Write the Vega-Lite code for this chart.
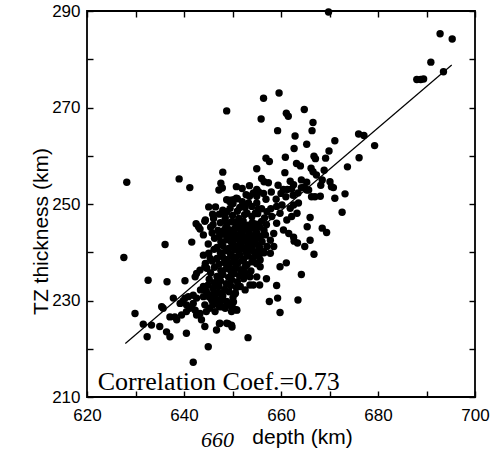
{
  "$schema": "https://vega.github.io/schema/vega-lite/v6.json",
  "autosize": "none",
  "width": 388,
  "height": 386,
  "padding": {"left": 87, "top": 11, "right": 28, "bottom": 57},
  "background": "white",
  "config": {
    "view": {"stroke": "black", "strokeWidth": 1.8},
    "axis": {
      "zindex": 1,
      "labelFont": "Liberation Sans",
      "labelFontSize": 17,
      "labelColor": "black",
      "grid": false,
      "domain": false,
      "ticks": true,
      "tickSize": 6,
      "tickWidth": 1.4,
      "tickColor": "black",
      "offset": -6,
      "labelFlush": false,
      "labelOverlap": false,
      "titleFont": "Liberation Sans",
      "titleFontSize": 21,
      "titleFontWeight": "normal",
      "titleColor": "black"
    }
  },
  "title": {
    "text": "660",
    "orient": "bottom",
    "anchor": "start",
    "frame": "group",
    "font": "Liberation Serif",
    "fontStyle": "italic",
    "fontWeight": "normal",
    "fontSize": 22,
    "color": "black",
    "dx": 114,
    "dy": -17,
    "offset": 0
  },
  "resolve": {"axis": {"x": "independent", "y": "independent"}},
  "layer": [
    {
      "data": {"values": [
        {"x":669.8,"y":289.8},{"x":692.8,"y":285.3},{"x":695.3,"y":284.2},{"x":690.9,"y":279.4},{"x":693.5,"y":277.4},{"x":688.0,"y":275.8},{"x":688.8,"y":275.8},{"x":689.4,"y":275.9},
        {"x":659.6,"y":273.0},{"x":656.4,"y":271.9},{"x":648.8,"y":269.3},{"x":661.1,"y":268.8},{"x":661.5,"y":268.2},{"x":664.8,"y":269.6},{"x":655.9,"y":267.6},{"x":666.6,"y":266.9},{"x":659.3,"y":265.2},{"x":666.4,"y":265.2},{"x":662.9,"y":264.1},
        {"x":676.0,"y":264.5},{"x":677.1,"y":264.2},{"x":679.3,"y":262.1},{"x":671.1,"y":263.1},{"x":665.3,"y":262.4},{"x":662.7,"y":261.5},{"x":669.9,"y":261.0},{"x":669.2,"y":259.5},{"x":666.8,"y":259.9},{"x":667.1,"y":259.4},{"x":660.9,"y":259.7},{"x":676.1,"y":259.6},{"x":656.9,"y":259.5},{"x":657.6,"y":258.8},{"x":663.2,"y":258.4},{"x":664.0,"y":257.9},{"x":673.7,"y":257.7},{"x":655.0,"y":257.3},{"x":648.0,"y":256.6},{"x":668.9,"y":257.0},{"x":666.2,"y":257.4},{"x":666.6,"y":256.7},{"x":667.3,"y":256.0},{"x":660.8,"y":256.5},{"x":639.0,"y":255.2},{"x":628.2,"y":254.5},{"x":656.0,"y":255.3},{"x":656.5,"y":254.6},{"x":657.4,"y":254.4},{"x":659.4,"y":253.9},{"x":664.2,"y":255.0},{"x":668.5,"y":255.0},{"x":668.2,"y":253.9},{"x":670.1,"y":254.6},{"x":670.4,"y":253.6},
        {"x":661.9,"y":254.7},{"x":662.6,"y":254.0},{"x":662.2,"y":253.1},{"x":661.3,"y":253.0},{"x":665.3,"y":254.5},{"x":664.8,"y":253.5},{"x":665.7,"y":252.9},
        {"x":670.8,"y":253.4},{"x":671.1,"y":251.2},{"x":673.2,"y":252.1},{"x":672.6,"y":248.3},{"x":666.0,"y":247.2},{"x":665.4,"y":245.3},{"x":668.5,"y":245.0},{"x":669.4,"y":244.1},{"x":666.0,"y":242.5},{"x":664.9,"y":241.2},{"x":666.8,"y":239.6},{"x":663.4,"y":241.9},{"x":662.7,"y":242.3},{"x":661.1,"y":237.8},{"x":659.8,"y":237.0},{"x":664.2,"y":235.4},{"x":659.1,"y":233.1},{"x":657.0,"y":234.5},{"x":655.6,"y":233.2},{"x":653.6,"y":233.2},{"x":659.3,"y":230.5},{"x":663.5,"y":230.1},{"x":657.6,"y":229.8},{"x":659.8,"y":227.5},
        {"x":664.2,"y":253.4},{"x":665.3,"y":252.9},{"x":667.0,"y":251.5},{"x":666.3,"y":251.5},{"x":668.1,"y":251.6},
        {"x":641.2,"y":253.4},{"x":647.6,"y":254.3},{"x":647.2,"y":252.9},{"x":647.9,"y":253.3},{"x":645.1,"y":249.4},{"x":645.9,"y":247.9},{"x":648.4,"y":248.4},{"x":649.5,"y":250.8},{"x":650.1,"y":250.1},{"x":650.8,"y":251.2},
        {"x":642.5,"y":245.9},{"x":643.3,"y":244.8},{"x":644.0,"y":243.6},{"x":636.1,"y":241.6},{"x":641.6,"y":242.1},{"x":627.6,"y":238.9},{"x":647.8,"y":244.3},{"x":649.8,"y":246.3},{"x":649.5,"y":244.6},
        {"x":632.6,"y":234.2},{"x":636.5,"y":233.9},{"x":640.2,"y":234.1},{"x":642.3,"y":234.9},{"x":642.6,"y":235.6},{"x":643.3,"y":236.3},{"x":644.3,"y":237.0},
        {"x":629.9,"y":227.3},{"x":631.6,"y":225.1},{"x":633.3,"y":224.9},{"x":635.0,"y":224.6},{"x":632.4,"y":222.5},{"x":636.4,"y":223.5},{"x":637.1,"y":222.5},{"x":640.5,"y":223.2},
        {"x":635.4,"y":228.7},{"x":635.7,"y":228.4},{"x":637.8,"y":230.5},{"x":639.2,"y":229.4},{"x":639.8,"y":229.9},{"x":637.1,"y":226.6},{"x":638.1,"y":226.6},{"x":638.5,"y":226.0},{"x":639.5,"y":227.0},
        {"x":640.5,"y":227.7},{"x":641.2,"y":228.4},{"x":642.3,"y":228.0},{"x":642.6,"y":227.0},{"x":640.2,"y":230.5},{"x":640.9,"y":230.8},{"x":641.9,"y":231.1},{"x":642.6,"y":230.5},{"x":640.5,"y":229.1},{"x":641.9,"y":229.4},
        {"x":643.3,"y":227.3},{"x":643.6,"y":226.0},{"x":644.3,"y":224.6},{"x":645.0,"y":220.4},{"x":641.9,"y":217.2},{"x":646.7,"y":223.9},{"x":647.4,"y":225.3},{"x":648.8,"y":225.3},{"x":649.8,"y":224.9},{"x":653.2,"y":222.3},
        {"x":644.3,"y":229.1},{"x":644.6,"y":227.7},{"x":645.3,"y":228.4},{"x":646.0,"y":229.1},{"x":646.4,"y":227.7},{"x":644.0,"y":230.8},{"x":645.0,"y":231.1},{"x":645.7,"y":230.1},{"x":646.4,"y":230.8},{"x":647.1,"y":229.8},{"x":647.8,"y":228.7},
        {"x":644.4,"y":237.7},{"x":644.7,"y":236.7},{"x":645.1,"y":239.8},{"x":645.4,"y":238.7},{"x":643.4,"y":232.2},{"x":644.0,"y":232.9},
        {"x":657.1,"y":248.4},{"x":657.9,"y":249.0},{"x":659.1,"y":249.5},{"x":660.2,"y":249.8},{"x":661.9,"y":249.1},{"x":662.6,"y":249.8},{"x":663.6,"y":250.2},{"x":663.3,"y":248.1},{"x":661.2,"y":246.7},{"x":662.2,"y":247.4},{"x":660.5,"y":244.6},{"x":661.6,"y":243.9},{"x":662.6,"y":243.1},{"x":659.1,"y":246.0},{"x":658.1,"y":247.4},{"x":658.5,"y":243.9},{"x":659.8,"y":248.1},{"x":657.8,"y":242.5},{"x":657.1,"y":241.2},{"x":658.5,"y":241.2},{"x":657.8,"y":239.8},
        {"x":660.0,"y":252.2},{"x":661.0,"y":251.5},{"x":662.5,"y":251.8},{"x":659.0,"y":251.0},{"x":658.0,"y":252.5},{"x":660.5,"y":253.0},{"x":663.5,"y":252.3},
        {"x":650.8,"y":253.6},{"x":652.0,"y":253.2},{"x":653.5,"y":253.8},{"x":655.0,"y":253.0},{"x":652.8,"y":251.9},{"x":653.5,"y":251.6},{"x":654.3,"y":252.3},{"x":655.0,"y":251.6},{"x":655.4,"y":252.5},{"x":651.0,"y":251.1},{"x":650.2,"y":250.9},{"x":649.4,"y":250.5},{"x":648.8,"y":250.9},{"x":653.3,"y":250.2},{"x":653.0,"y":248.1},{"x":654.7,"y":248.1},{"x":655.0,"y":250.2},{"x":656.4,"y":252.2},{"x":656.9,"y":251.0},{"x":652.0,"y":250.5},{"x":654.0,"y":249.5},{"x":656.0,"y":249.0},{"x":651.5,"y":249.3},
        {"x":646.5,"y":249.4},{"x":648.0,"y":248.7},{"x":649.5,"y":249.1},{"x":651.0,"y":248.5},{"x":652.6,"y":249.3},{"x":655.3,"y":248.9},
        {"x":647.3,"y":247.9},{"x":648.5,"y":247.2},{"x":650.0,"y":247.6},{"x":651.3,"y":247.0},{"x":652.5,"y":247.8},{"x":654.0,"y":247.4},{"x":655.2,"y":248.0},{"x":656.6,"y":247.1},
        {"x":644.3,"y":246.4},{"x":646.0,"y":245.7},{"x":647.5,"y":246.1},{"x":648.8,"y":245.5},{"x":650.2,"y":246.3},{"x":651.2,"y":245.9},{"x":652.2,"y":246.5},{"x":653.2,"y":245.6},{"x":654.1,"y":246.2},{"x":655.0,"y":245.8},{"x":656.0,"y":246.4},{"x":657.0,"y":245.7},
        {"x":645.5,"y":245.2},{"x":647.0,"y":244.5},{"x":648.5,"y":244.9},{"x":649.6,"y":244.3},{"x":650.6,"y":245.1},{"x":651.6,"y":244.7},{"x":652.4,"y":245.3},{"x":653.3,"y":244.4},{"x":654.0,"y":245.0},{"x":654.8,"y":244.6},{"x":655.6,"y":245.2},{"x":656.5,"y":244.5},
        {"x":645.8,"y":244.0},{"x":647.3,"y":243.3},{"x":648.5,"y":243.7},{"x":649.5,"y":243.1},{"x":650.4,"y":243.9},{"x":651.2,"y":243.5},{"x":652.0,"y":244.1},{"x":652.8,"y":243.2},{"x":653.5,"y":243.8},{"x":654.2,"y":243.4},{"x":655.0,"y":244.0},{"x":655.8,"y":243.3},{"x":656.8,"y":243.6},
        {"x":646.3,"y":242.9},{"x":647.6,"y":242.2},{"x":648.8,"y":242.6},{"x":649.8,"y":242.0},{"x":650.7,"y":242.8},{"x":651.5,"y":242.4},{"x":652.3,"y":243.0},{"x":653.0,"y":242.1},{"x":653.7,"y":242.7},{"x":654.4,"y":242.3},{"x":655.2,"y":242.9},{"x":656.1,"y":242.2},
        {"x":645.0,"y":241.7},{"x":646.8,"y":241.0},{"x":648.0,"y":241.4},{"x":649.2,"y":240.8},{"x":650.2,"y":241.6},{"x":651.0,"y":241.2},{"x":651.8,"y":241.8},{"x":652.6,"y":240.9},{"x":653.3,"y":241.5},{"x":654.0,"y":241.1},{"x":654.8,"y":241.7},{"x":655.6,"y":241.0},
        {"x":646.2,"y":240.6},{"x":647.5,"y":239.9},{"x":648.6,"y":240.3},{"x":649.6,"y":239.7},{"x":650.5,"y":240.5},{"x":651.3,"y":240.1},{"x":652.1,"y":240.7},{"x":652.9,"y":239.8},{"x":653.6,"y":240.4},{"x":654.5,"y":240.0},{"x":655.4,"y":240.6},{"x":656.5,"y":239.9},
        {"x":644.0,"y":239.4},{"x":646.8,"y":238.7},{"x":647.9,"y":239.1},{"x":648.9,"y":238.5},{"x":649.8,"y":239.3},{"x":650.7,"y":238.9},{"x":651.5,"y":239.5},{"x":652.3,"y":238.6},{"x":653.2,"y":239.2},{"x":654.3,"y":238.8},{"x":655.5,"y":239.4},
        {"x":645.8,"y":238.2},{"x":647.2,"y":237.5},{"x":648.3,"y":237.9},{"x":649.3,"y":237.3},{"x":650.2,"y":238.1},{"x":651.1,"y":237.7},{"x":652.0,"y":238.3},{"x":653.0,"y":237.4},{"x":654.0,"y":238.0},{"x":655.0,"y":237.6},
        {"x":646.3,"y":236.9},{"x":647.6,"y":236.2},{"x":648.7,"y":236.6},{"x":649.7,"y":236.0},{"x":650.6,"y":236.8},{"x":651.6,"y":236.4},{"x":652.6,"y":237.0},{"x":653.8,"y":236.1},
        {"x":645.5,"y":235.7},{"x":646.8,"y":235.0},{"x":648.0,"y":235.4},{"x":649.2,"y":234.8},{"x":650.3,"y":235.6},{"x":651.4,"y":235.2},{"x":652.5,"y":235.8},{"x":653.6,"y":234.9},
        {"x":645.2,"y":234.4},{"x":646.3,"y":233.7},{"x":647.5,"y":234.1},{"x":648.7,"y":233.5},{"x":649.8,"y":234.3},{"x":651.0,"y":233.9},{"x":652.3,"y":234.5},
        {"x":645.0,"y":233.2},{"x":646.0,"y":232.5},{"x":647.2,"y":232.9},{"x":648.4,"y":232.3},{"x":649.6,"y":233.1},{"x":650.8,"y":232.7},
        {"x":644.6,"y":231.9},{"x":645.7,"y":231.2},{"x":646.8,"y":231.6},{"x":648.0,"y":231.0},{"x":649.3,"y":231.8},{"x":650.5,"y":231.4},
        {"x":645.2,"y":230.7},{"x":646.4,"y":230.0},{"x":647.7,"y":230.4},{"x":648.8,"y":229.8},{"x":650.1,"y":230.6},
        {"x":646.0,"y":229.4},{"x":647.3,"y":228.7},{"x":649.0,"y":229.1},{"x":650.0,"y":228.5},
        {"x":648.5,"y":228.4},{"x":649.8,"y":227.7},{"x":650.8,"y":228.1},
        {"x":647.5,"y":229.7},{"x":647.8,"y":231.5},{"x":650.2,"y":229.7},{"x":650.9,"y":228.0},{"x":650.6,"y":231.5},{"x":652.6,"y":232.2},{"x":651.6,"y":232.9},{"x":654.3,"y":233.2},{"x":655.0,"y":234.9},{"x":652.6,"y":235.6},{"x":655.0,"y":237.7},{"x":655.7,"y":238.4},{"x":656.4,"y":240.1},{"x":655.7,"y":237.0},{"x":649.9,"y":224.5},{"x":649.1,"y":225.2},{"x":647.3,"y":225.2},{"x":648.8,"y":248.4},{"x":648.5,"y":246.6},{"x":646.1,"y":247.0},{"x":644.4,"y":246.7},{"x":643.0,"y":245.3}
      ]},
      "mark": {"type": "circle", "color": "black", "opacity": 1, "size": 55},
      "encoding": {
        "x": {
          "field": "x", "type": "quantitative",
          "scale": {"domain": [620, 700], "nice": false, "zero": false},
          "axis": {
            "orient": "bottom",
            "values": [620, 630, 640, 650, 660, 670, 680, 690, 700],
            "labelExpr": "datum.value % 20 === 0 ? datum.label : ''",
            "labelPadding": 10,
            "title": "depth (km)",
            "titleX": 215,
            "titleY": 52,
            "titleAlign": "center",
            "titleBaseline": "alphabetic"
          }
        },
        "y": {
          "field": "y", "type": "quantitative",
          "scale": {"domain": [210, 290], "nice": false, "zero": false},
          "axis": {
            "orient": "left",
            "values": [210, 220, 230, 240, 250, 260, 270, 280, 290],
            "labelExpr": "datum.value % 20 === 10 ? datum.label : ''",
            "labelPadding": 7,
            "title": "TZ thickness (km)",
            "titleX": -52,
            "titleY": 220,
            "titleAlign": "center",
            "titleBaseline": "middle",
            "titleAngle": -90
          }
        }
      }
    },
    {
      "data": {"values": [{"x": 627.9, "y": 221.1}, {"x": 695.2, "y": 278.8}]},
      "mark": {"type": "line", "color": "black", "strokeWidth": 1.2},
      "encoding": {
        "x": {
          "field": "x", "type": "quantitative",
          "axis": {
            "orient": "top",
            "values": [620, 630, 640, 650, 660, 670, 680, 690, 700],
            "labels": false,
            "title": null
          }
        },
        "y": {
          "field": "y", "type": "quantitative",
          "axis": {
            "orient": "right",
            "values": [210, 220, 230, 240, 250, 260, 270, 280, 290],
            "labels": false,
            "title": null
          }
        }
      }
    },
    {
      "data": {"values": [{"x": 622.2, "y": 211.5, "label": "Correlation Coef.=0.73"}]},
      "mark": {"type": "text", "font": "Liberation Serif", "fontSize": 26, "color": "black", "align": "left", "baseline": "alphabetic"},
      "encoding": {
        "x": {"field": "x", "type": "quantitative", "axis": null},
        "y": {"field": "y", "type": "quantitative", "axis": null},
        "text": {"field": "label"}
      }
    }
  ]
}
